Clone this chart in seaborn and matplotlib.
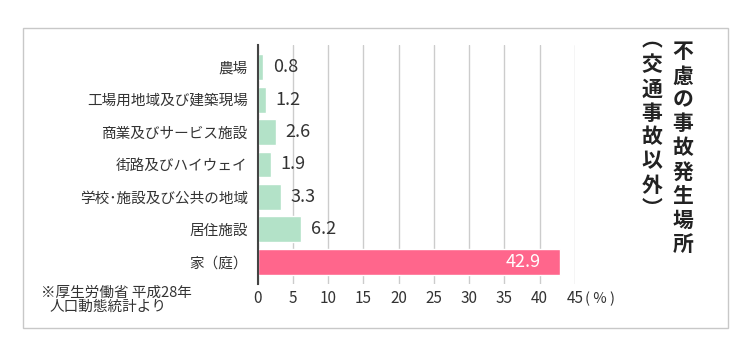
import matplotlib
matplotlib.use("Agg")
import matplotlib.pyplot as plt
import matplotlib.patches as mpatches
import pandas as pd
import seaborn as sns

# data
places = [
    "農場",
    "工場用地域及び建築現場",
    "商業及びサービス施設",
    "街路及びハイウェイ",
    "学校･施設及び公共の地域",
    "居住施設",
    "家（庭）",
]
shares = [0.8, 1.2, 2.6, 1.9, 3.3, 6.2, 42.9]
x_ticks = [0, 5, 10, 15, 20, 25, 30, 35, 40, 45]
title_main = "不慮の事故発生場所"
title_sub = "︵交通事故以外︶"
source_lines = ["※厚生労働省 平成28年", "人口動態統計より"]

GREEN = "#b3e2c8"
PINK = "#ff668c"
TEXT = "#333333"

sns.set_style("white")
plt.rcParams["font.family"] = ["Noto Sans CJK JP", "DejaVu Sans"]

df = pd.DataFrame({"place": places, "share": shares})
colors = [GREEN] * (len(places) - 1) + [PINK]

W, H = 748, 353
fig = plt.figure(figsize=(W / 100, H / 100), dpi=100)
ax = fig.add_axes([257.5 / W, 1 - 284 / H, (575 - 257.5) / W, (284 - 45) / H])

sns.barplot(
    data=df, x="share", y="place", hue="place", palette=colors,
    orient="h", width=0.8, legend=False, saturation=1, ax=ax, zorder=3,
)

ax.set_xlim(0, 45)
ax.set_ylim(len(places) - 1 + 0.68, -0.68)
ax.set_xticks(x_ticks)
ax.set_xticklabels([str(t) for t in x_ticks])
ax.xaxis.grid(True, color="#cccccc", linewidth=1, zorder=0)
ax.yaxis.grid(False)
ax.set_xlabel("")
ax.set_ylabel("")
for side in ["top", "right", "bottom"]:
    ax.spines[side].set_visible(False)
ax.spines["left"].set_color("#444444")
ax.spines["left"].set_linewidth(1.5)
ax.spines["left"].set_zorder(4)
ax.tick_params(axis="x", length=0, pad=4, labelsize=11, labelcolor=TEXT)
ax.tick_params(axis="y", length=0, pad=7, labelsize=10.5, labelcolor=TEXT)

ax.annotate("( % )", xy=(45, 0), xycoords=("data", "axes fraction"),
            xytext=(7, -11), textcoords="offset points",
            ha="left", va="center", fontsize=10.5, color=TEXT)

# value labels
for i, v in enumerate(shares):
    if i == len(shares) - 1:
        ax.annotate(f"{v}", xy=(v, i), xytext=(-14, 0), textcoords="offset points",
                    ha="right", va="center", fontsize=13, color="white")
    else:
        ax.annotate(f"{v}", xy=(v, i), xytext=(7, 0), textcoords="offset points",
                    ha="left", va="center", fontsize=13, color=TEXT)

# vertical title, one character per row
for i, ch in enumerate(title_main):
    fig.text(683 / W, 1 - (52 + 24 * i) / H, ch, ha="center", va="center",
             fontsize=15, fontweight="bold", color="#222222")
sub_y = [40, 65, 89, 113, 137, 161, 185, 209]
for ch, yy in zip(title_sub, sub_y):
    fig.text(652 / W, 1 - yy / H, ch, ha="center", va="center",
             fontsize=15, fontweight="bold", color="#222222")

# source note
fig.text(116 / W, 1 - 293 / H, source_lines[0], ha="center", va="center",
         fontsize=10.5, color=TEXT)
fig.text(108 / W, 1 - 307 / H, source_lines[1], ha="center", va="center",
         fontsize=10.5, color=TEXT)

# frame round the whole chart
fig.patches.append(mpatches.Rectangle(
    (23 / W, 1 - 328 / H), (728 - 23) / W, (328 - 28) / H,
    transform=fig.transFigure, fill=False, edgecolor="#c8c8c8", linewidth=1,
))

fig.savefig("out.png", dpi=100, facecolor="white")
